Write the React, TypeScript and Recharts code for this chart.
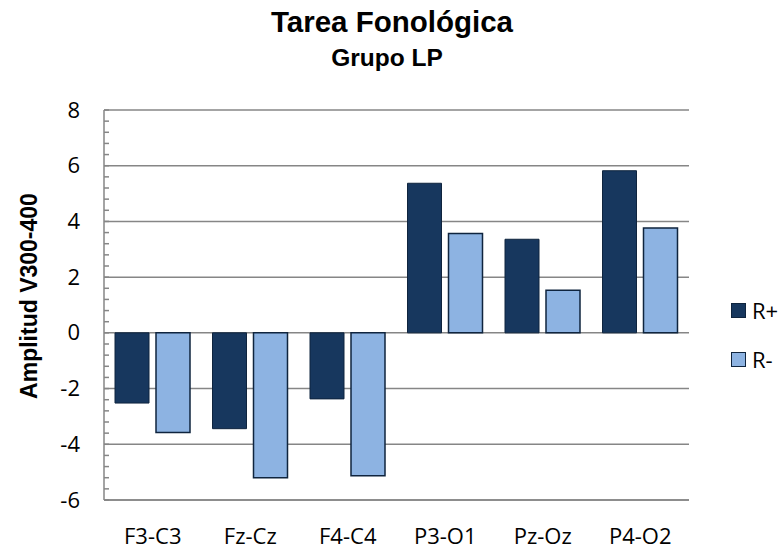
import { BarChart, Bar, XAxis, YAxis, CartesianGrid } from "recharts";

const categories = ["F3-C3", "Fz-Cz", "F4-C4", "P3-O1", "Pz-Oz", "P4-O2"];
const rPlus = [-2.52, -3.44, -2.37, 5.37, 3.36, 5.82];
const rMinus = [-3.58, -5.2, -5.13, 3.57, 1.53, 3.76];
const majorTicks = [-6, -4, -2, 0, 2, 4, 6, 8];

// minor ticks every 0.4 between the majors (Excel style)
const allTicks: number[] = [];
for (let i = 0; i < majorTicks.length - 1; i++) {
  for (let k = 0; k < 5; k++) allTicks.push(+(majorTicks[i] + k * 0.4).toFixed(1));
}
allTicks.push(majorTicks[majorTicks.length - 1]);

const data = categories.map((name, i) => ({ name, rPlus: rPlus[i], rMinus: rMinus[i] }));

const DARK = "#17375E";
const LIGHT = "#8DB3E2";
const EDGE = "#0F243E";
const GRID = "#868686";
const TICK_FONT = "'Open Sans', sans-serif";

const YTick = (props: any) => {
  const { x, y, payload } = props;
  const v = payload.value as number;
  const major = majorTicks.includes(v);
  const axisX = x + 24;
  return (
    <g>
      <line x1={axisX} x2={axisX + 5} y1={y} y2={y} stroke={GRID} strokeWidth={1.5} />
      {major && (
        <text x={x} y={y} dy={7.5} textAnchor="end" fontSize={22} fontFamily={TICK_FONT} fill="#000">
          {v}
        </text>
      )}
    </g>
  );
};

const YLabel = (props: any) => {
  const vb = props.viewBox || {};
  const cy = vb.y + vb.height / 2 - 9;
  return (
    <text
      x={37}
      y={cy}
      transform={`rotate(-90, 37, ${cy})`}
      textAnchor="middle"
      fontSize={23}
      fontWeight="bold"
      fontFamily="Arial, 'Liberation Sans', sans-serif"
      fill="#000"
    >
      Amplitud V300-400
    </text>
  );
};

const legendItems = [
  { label: "R+", fill: DARK, top: 295 },
  { label: "R-", fill: LIGHT, top: 344 },
];

export default function App() {
  return (
    <div style={{ position: "absolute", left: 0, top: 0, width: 782, height: 557, background: "#fff" }}>
      <div
        style={{
          position: "absolute",
          left: 0,
          width: 782,
          top: 3,
          textAlign: "center",
          fontFamily: "Arial, 'Liberation Sans', sans-serif",
          fontWeight: "bold",
          color: "#000",
        }}
      >
        <div style={{ fontSize: 29.5, lineHeight: "38px", marginLeft: 2 }}>Tarea Fonológica</div>
        <div style={{ fontSize: 24.5, lineHeight: "34px", marginLeft: -8 }}>Grupo LP</div>
      </div>
      <BarChart
        width={782}
        height={557}
        data={data}
        margin={{ top: 110, right: 93, bottom: 0, left: 0 }}
        barSize={34}
        barGap={7}
      >
        <CartesianGrid vertical={false} horizontalValues={majorTicks} stroke={GRID} strokeWidth={1.5} />
        <XAxis
          dataKey="name"
          height={57}
          axisLine={{ stroke: GRID, strokeWidth: 1.5 }}
          tickLine={false}
          tickSize={0}
          tickMargin={28}
          tick={{ fontSize: 22, fontFamily: TICK_FONT, fill: "#000" }}
          interval={0}
        />
        <YAxis
          width={104}
          domain={[-6, 8]}
          ticks={allTicks}
          interval={0}
          axisLine={{ stroke: GRID, strokeWidth: 1.5 }}
          tickLine={false}
          tickSize={0}
          tickMargin={24}
          tick={<YTick />}
          label={<YLabel />}
        />
        <Bar dataKey="rPlus" name="R+" fill={DARK} stroke={EDGE} strokeWidth={1} isAnimationActive={false} />
        <Bar dataKey="rMinus" name="R-" fill={LIGHT} stroke={EDGE} strokeWidth={1.5} isAnimationActive={false} />
      </BarChart>
      {legendItems.map((it) => (
        <div
          key={it.label}
          style={{
            position: "absolute",
            left: 731,
            top: it.top,
            display: "flex",
            alignItems: "center",
            fontFamily: TICK_FONT,
            fontSize: 22,
            color: "#000",
          }}
        >
          <span
            style={{
              width: 13,
              height: 13,
              background: it.fill,
              border: `1.5px solid ${EDGE}`,
              marginRight: 6,
              display: "inline-block",
            }}
          />
          <span>{it.label}</span>
        </div>
      ))}
    </div>
  );
}
